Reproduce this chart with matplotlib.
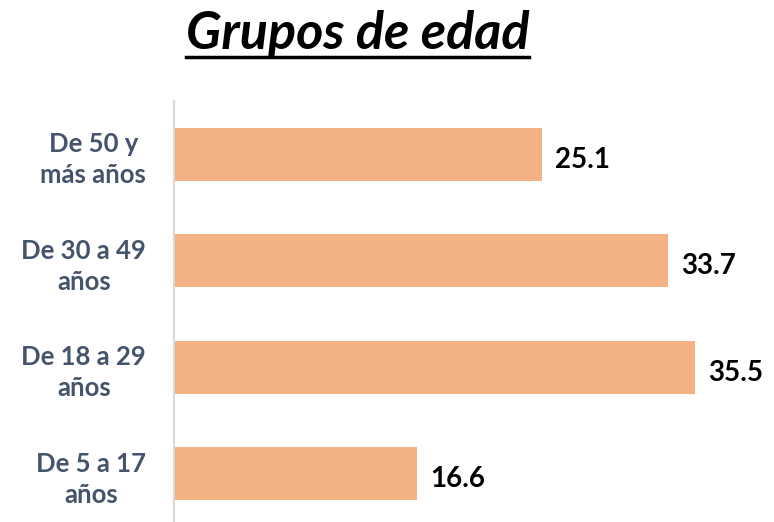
import matplotlib.pyplot as plt
from matplotlib.lines import Line2D

# Data
grupos = ["De 5 a 17\naños", "De 18 a 29\naños", "De 30 a 49\naños", "De 50 y\nmás años"]
porcentajes = [16.6, 35.5, 33.7, 25.1]

plt.rcParams['font.family'] = ['Lato', 'DejaVu Sans']

fig = plt.figure(figsize=(7.74, 5.22), dpi=100)
ax = fig.add_axes([0.2248, -0.0096, 0.758, 0.8161])

ax.barh(range(len(grupos)), porcentajes, height=0.5, color='#F4B183')
ax.set_xlim(0, 40)
ax.set_ylim(-0.5, len(grupos) - 0.5)

# value labels
for i, v in enumerate(porcentajes):
    ax.text(v + 0.9, i - 0.05, '%.1f' % v, va='center', ha='left', fontsize=20,
            fontweight='bold', color='black')

ax.set_yticks(range(len(grupos)))
ax.set_yticklabels(grupos, fontsize=18.5, fontweight='bold', color='#44546A',
                   linespacing=1.35)
for lbl in ax.get_yticklabels():
    lbl.set_multialignment('center')
ax.tick_params(axis='y', length=0, pad=20)
ax.set_xticks([])

for s in ['top', 'right', 'bottom']:
    ax.spines[s].set_visible(False)
ax.spines['left'].set_color('#D9D9D9')
ax.spines['left'].set_linewidth(1.5)

# title, underlined
title = fig.text(0.462, 0.935, 'Grupos de edad', ha='center', va='center',
                 fontsize=37.5, fontweight='bold', fontstyle='italic', color='black')
fig.canvas.draw()
bb = title.get_window_extent()
W, H = fig.bbox.width, fig.bbox.height
y_ul = (522 - 57) / 522.0
fig.add_artist(Line2D([bb.x0 / W, bb.x1 / W], [y_ul, y_ul], color='black', lw=2.5,
                      transform=fig.transFigure))

fig.savefig('out.png', dpi=100)
